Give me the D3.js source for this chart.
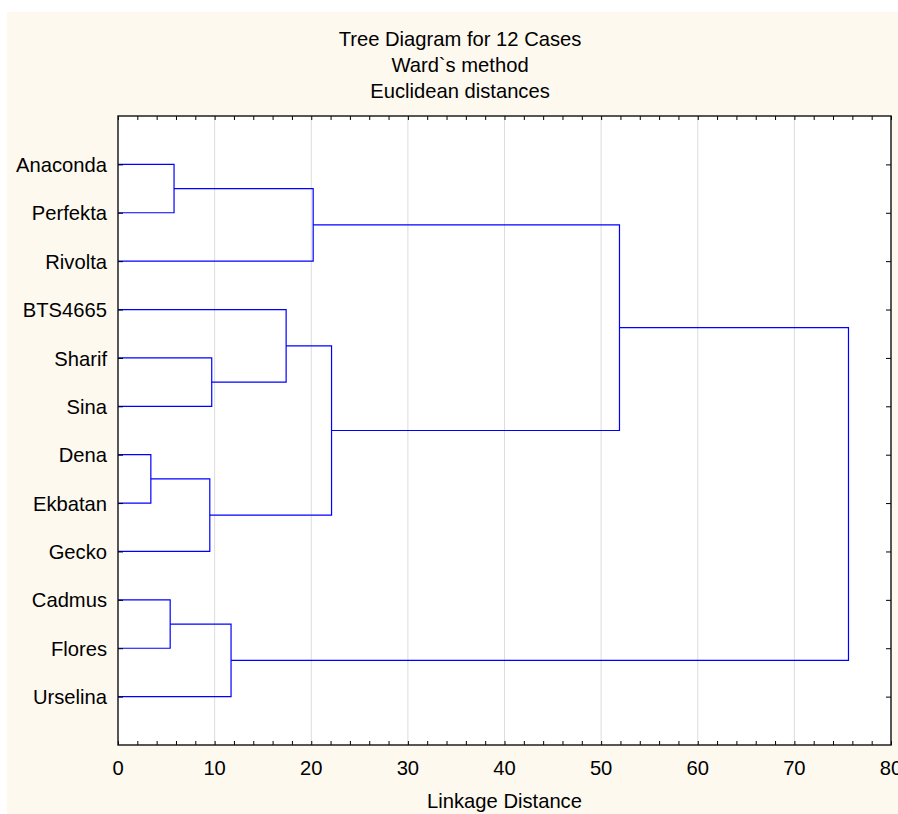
<!DOCTYPE html>
<html>
<head>
<meta charset="utf-8">
<script src="https://cdn.jsdelivr.net/npm/d3@7"></script>
<style>
  body { margin: 0; background: #fff; overflow: hidden; }
  svg { display: block; }
  svg text { font-family: "Liberation Sans", Arial, sans-serif; fill: #000; }
</style>
</head>
<body>
<svg id="chart"></svg>
<script>
// leaf order top to bottom
var leaves = ["Anaconda", "Perfekta", "Rivolta", "BTS4665", "Sharif", "Sina",
              "Dena", "Ekbatan", "Gecko", "Cadmus", "Flores", "Urselina"];

// [left, right, linkage distance]; ids < 12 are leaves, ids >= 12 are earlier merges
var merges = [
  [0, 1, 5.8],     // 12
  [12, 2, 20.2],   // 13
  [4, 5, 9.7],     // 14
  [3, 14, 17.4],   // 15
  [6, 7, 3.4],     // 16
  [16, 8, 9.5],    // 17
  [15, 17, 22.1],  // 18
  [13, 18, 51.9],  // 19
  [9, 10, 5.4],    // 20
  [20, 11, 11.7],  // 21
  [19, 21, 75.6]   // 22
];

var xTicks = [0, 10, 20, 30, 40, 50, 60, 70, 80];
var titleLines = ["Tree Diagram for 12 Cases", "Ward`s method", "Euclidean distances"];
var xLabel = "Linkage Distance";

var W = 898, H = 814;
var fontSize = "20.2px";
var margin = {top: 116, right: 7, bottom: 69, left: 118},
    w = W - margin.left - margin.right,
    h = H - margin.top - margin.bottom;

var svg = d3.select("#chart").attr("width", W).attr("height", H);

// cream background
svg.append("rect")
   .attr("x", 7).attr("y", 12)
   .attr("width", W - 7).attr("height", H - 12)
   .style("fill", "#fdf9ef");

var g = svg.append("g")
           .attr("transform", "translate(" + margin.left + "," + margin.top + ")");

g.append("rect")
 .attr("width", w).attr("height", h)
 .style("fill", "#fff");

var xScale = d3.scaleLinear().domain([0, 80]).range([0, w]);
var yScale = d3.scaleLinear().domain([0, leaves.length + 1]).range([0, h]);

// gridlines
g.append("g")
 .selectAll("line")
 .data(xTicks.slice(1, -1))
 .enter().append("line")
 .attr("x1", function(d) { return xScale(d); })
 .attr("x2", function(d) { return xScale(d); })
 .attr("y1", 0).attr("y2", h)
 .style("stroke", "#dcdcdc")
 .style("stroke-width", 1);

// node positions
var nodes = leaves.map(function(name, i) { return {x: 0, y: i + 1}; });
merges.forEach(function(m) {
  var a = nodes[m[0]], b = nodes[m[1]];
  nodes.push({x: m[2], y: (a.y + b.y) / 2, a: a, b: b});
});

// dendrogram links
g.append("g")
 .selectAll("path")
 .data(nodes.slice(leaves.length))
 .enter().append("path")
 .attr("d", function(d) {
   return "M" + xScale(d.a.x) + "," + yScale(d.a.y) +
          "H" + xScale(d.x) +
          "V" + yScale(d.b.y) +
          "H" + xScale(d.b.x);
 })
 .style("fill", "none")
 .style("stroke", "#0000ff")
 .style("stroke-width", 1.2);

// axes (ticks pointing inward)
var minorTicks = d3.range(0, 81, 2);

var xAxis = d3.axisBottom(xScale).tickValues(minorTicks).tickSize(-4).tickFormat("");
g.append("g").attr("class", "axis").attr("transform", "translate(0," + h + ")").call(xAxis);

var xAxisTop = d3.axisTop(xScale).tickValues(minorTicks).tickSize(-4).tickFormat("");
g.append("g").attr("class", "axis").call(xAxisTop);

var yVals = d3.range(1, leaves.length + 1);
var yAxis = d3.axisLeft(yScale).tickValues(yVals).tickSize(-5)
              .tickFormat(function(d) { return leaves[d - 1]; });
var yg = g.append("g").attr("class", "axis").call(yAxis);
yg.selectAll("text")
  .attr("x", -11)
  .attr("dy", "0.35em")
  .style("font-size", fontSize);

var yAxisRight = d3.axisRight(yScale).tickValues(yVals).tickSize(-5).tickFormat("");
g.append("g").attr("class", "axis").attr("transform", "translate(" + w + ",0)").call(yAxisRight);

// x tick labels
g.append("g")
 .selectAll("text")
 .data(xTicks)
 .enter().append("text")
 .attr("x", function(d) { return xScale(d); })
 .attr("y", h + 30)
 .attr("text-anchor", "middle")
 .style("font-size", fontSize)
 .text(function(d) { return d; });

g.selectAll(".axis path.domain").remove();
g.selectAll(".axis line").style("stroke", "#000").style("stroke-width", 1);

// frame
g.append("rect")
 .attr("width", w).attr("height", h)
 .style("fill", "none")
 .style("stroke", "#111")
 .style("stroke-width", 1.4);

// title
svg.append("g")
   .selectAll("text")
   .data(titleLines)
   .enter().append("text")
   .attr("x", 460)
   .attr("y", function(d, i) { return 46 + i * 26; })
   .attr("text-anchor", "middle")
   .style("font-size", fontSize)
   .text(function(d) { return d; });

svg.append("text")
   .attr("x", margin.left + w / 2)
   .attr("y", 808)
   .attr("text-anchor", "middle")
   .style("font-size", fontSize)
   .text(xLabel);
</script>
</body>
</html>
